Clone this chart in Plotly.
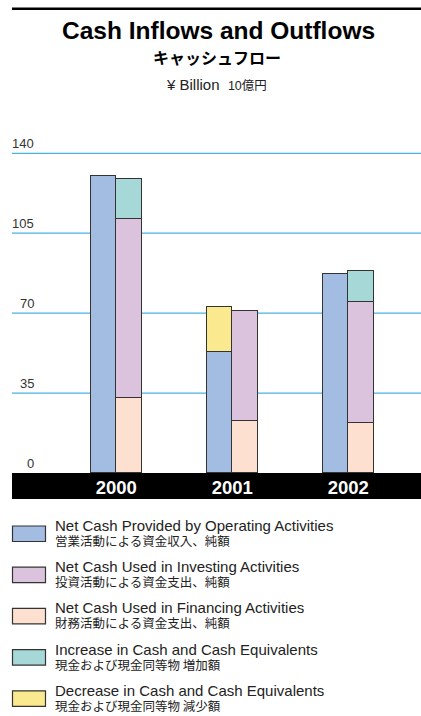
import plotly.graph_objects as go

# ---- data (¥ billion) ----
years = ["2000", "2001", "2002"]
operating = [130.2, 52.9, 87.1]          # Net cash provided by operating activities
decrease = [None, 19.6, None]            # Decrease in cash and cash equivalents
financing = [32.8, 22.9, 21.9]           # Net cash used in financing activities
investing = [78.3, 48.1, 53.1]           # Net cash used in investing activities
increase = [17.5, None, 13.5]            # Increase in cash and cash equivalents
y_ticks = [0, 35, 70, 105, 140]

names_en = {
    "operating": "Net Cash Provided by Operating Activities",
    "investing": "Net Cash Used in Investing Activities",
    "financing": "Net Cash Used in Financing Activities",
    "increase": "Increase in Cash and Cash Equivalents",
    "decrease": "Decrease in Cash and Cash Equivalents",
}
names_ja = {
    "operating": "営業活動による資金収入、純額",
    "investing": "投資活動による資金支出、純額",
    "financing": "財務活動による資金支出、純額",
    "increase": "現金および現金同等物 増加額",
    "decrease": "現金および現金同等物 減少額",
}
colors = {
    "operating": "#a3bde2",
    "investing": "#dbc3dd",
    "financing": "#fde0cf",
    "increase": "#a6d8d8",
    "decrease": "#fbe98f",
}
legend_order = ["operating", "investing", "financing", "increase", "decrease"]

# ---- page geometry ----
W, H = 421, 716
L, R = 12, 421          # plot area, horizontal pixels
T, B = 151, 473         # plot area, vertical pixels
Y_MAX = 141
X_RANGE = [-0.899, 2.627]
HALF = 0.11             # half distance between the two columns of a year
BAR_W = 0.218
GRID_BLUE = "#4ab2e2"

EN = "Liberation Sans, Arial, sans-serif"
JA = "Noto Sans CJK JP, sans-serif"
TXT = "#222222"


def px_x(x):
    return (x - L) / (R - L)


def px_y(y):
    return (B - y) / (B - T)


idx = list(range(len(years)))
left_x = [i - HALF for i in idx]
right_x = [i + HALF for i in idx]

bar_line = dict(color="#333333", width=1)


def bar(key, xs, ys):
    return go.Bar(
        x=xs, y=ys, width=BAR_W, name=names_en[key],
        marker=dict(color=colors[key], line=bar_line),
        showlegend=False,
        hovertemplate="%{y}<extra>" + names_en[key] + "</extra>",
    )


fig = go.Figure([
    bar("operating", left_x, operating),
    bar("decrease", left_x, decrease),
    bar("financing", right_x, financing),
    bar("investing", right_x, investing),
    bar("increase", right_x, increase),
])

# horizontal value lines behind the bars
shapes = [
    dict(type="line", xref="paper", yref="y", x0=0, x1=1, y0=v, y1=v,
         line=dict(color=GRID_BLUE, width=1.3), layer="below")
    for v in y_ticks if v > 0
]
shapes += [
    # year band under the axis
    dict(type="rect", xref="paper", yref="paper", x0=0, x1=1,
         y0=px_y(499), y1=0, fillcolor="black", line=dict(width=0), layer="below"),
    # rule above the title
    dict(type="line", xref="paper", yref="paper", x0=0, x1=1,
         y0=px_y(8.7), y1=px_y(8.7), line=dict(color="black", width=2.5)),
]

annotations = [
    dict(text="<b>Cash Inflows and Outflows</b>", x=0.505, y=px_y(30),
         font=dict(family=EN, size=24.5, color="black")),
    dict(text="<b>キャッシュフロー</b>", x=0.5, y=px_y(57),
         font=dict(family=JA, size=16, color="black")),
    dict(text="¥ Billion  <span style='font-size:12.5px'>10億円</span>", x=0.5, y=px_y(84),
         font=dict(family=EN + ", " + JA, size=15, color=TXT)),
]
for a in annotations:
    a.update(xref="paper", yref="paper", showarrow=False, xanchor="center", yanchor="middle")

# y-axis values sit just above their lines
for v in y_ticks:
    annotations.append(dict(
        text=str(v), xref="paper", yref="y", x=px_x(35.5), y=v, yshift=10,
        xanchor="right", yanchor="middle", showarrow=False,
        font=dict(family=EN, size=13, color="#333333"),
    ))

# legend built from swatches and two-line labels (English over Japanese)
row_top = 526
row_gap = 41.2
for k, key in enumerate(legend_order):
    top = row_top + k * row_gap
    shapes.append(dict(
        type="rect", xref="paper", yref="paper",
        x0=px_x(12.5), x1=px_x(45.5), y0=px_y(top + 15.5), y1=px_y(top),
        fillcolor=colors[key], line=dict(color="#333333", width=1.2),
    ))
    label = (
        f"<span style='font-family:{EN};font-size:15px'>{names_en[key]}</span><br>"
        f"<span style='font-family:{JA};font-size:12.5px'>{names_ja[key]}</span>"
    )
    annotations.append(dict(
        text=label, xref="paper", yref="paper", x=px_x(54), y=px_y(top + 7.5),
        xanchor="left", yanchor="middle", align="left", showarrow=False,
        borderpad=0, font=dict(family=EN, size=11.2, color=TXT),
    ))

fig.update_layout(
    width=W, height=H,
    margin=dict(l=L, r=W - R, t=T, b=H - B, pad=0),
    paper_bgcolor="white", plot_bgcolor="white",
    barmode="stack",
    bargap=0,
    showlegend=False,
    shapes=shapes,
    annotations=annotations,
    xaxis=dict(
        range=X_RANGE, tickmode="array", tickvals=idx, ticktext=[f"<b>{y}</b>" for y in years],
        tickfont=dict(family=EN, size=18.5, color="white"),
        showgrid=False, zeroline=False, showline=False, ticks="",
        ticklabelstandoff=1, fixedrange=True,
    ),
    yaxis=dict(
        range=[0, Y_MAX], tickmode="array", tickvals=y_ticks,
        showticklabels=False, showgrid=False,
        zeroline=False, showline=False, ticks="", fixedrange=True,
    ),
)

fig.write_html("out.html")
